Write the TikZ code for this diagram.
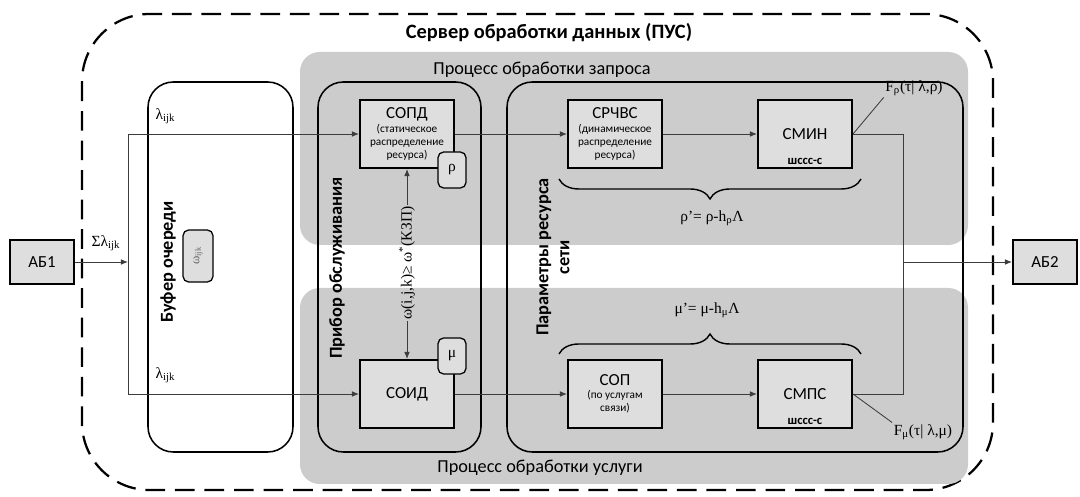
\documentclass[tikz,border=0pt]{standalone}
\usepackage{fontspec}
\setmainfont{Carlito}
\newfontfamily\tnr{Liberation Serif}
\usetikzlibrary{positioning,arrows.meta,decorations.pathreplacing}
\definecolor{zonegray}{RGB}{204,204,204}
\definecolor{boxgray}{RGB}{222,222,222}
\definecolor{wiregray}{RGB}{60,60,60}
\newcommand{\boxhead}[1]{{\fontsize{12}{13}\selectfont #1}}
\tikzset{
  blok/.style={draw,line width=1.4pt,fill=boxgray,minimum width=2.35cm,minimum height=1.7cm,inner sep=1pt,align=center,font=\fontsize{12}{13}\selectfont},
  blokdesc/.style={blok,font=\fontsize{8}{9.3}\selectfont},
  parm/.style={draw,line width=0.9pt,fill=boxgray,rounded corners=4pt,minimum width=0.7cm,minimum height=0.9cm,inner sep=0pt,font=\tnr\fontsize{11}{12}\selectfont},
  abbox/.style={draw,line width=1.4pt,fill=boxgray,minimum width=1.6cm,minimum height=1.1cm,font=\fontsize{12}{13}\selectfont},
  zonefill/.style={fill=zonegray,rounded corners=14pt},
  roundframe/.style={draw,line width=1.1pt,rounded corners=18pt},
  wire/.style={draw=wiregray,line width=0.6pt},
  formula/.style={font=\tnr\fontsize{11}{12}\selectfont,inner sep=1pt},
  vtitle/.style={rotate=90,font=\bfseries\fontsize{13}{15}\selectfont,align=center},
  zonetitle/.style={font=\fontsize{13}{15}\selectfont},
  curly/.style={decorate,line width=1pt}
}
\begin{document}
\begin{tikzpicture}[x=0.025cm,y=-0.025cm,>={Latex[length=5pt,width=4pt]}]
    \useasboundingbox (0,0) rectangle (1080,497);
    \draw[line width=1.6pt,dash pattern=on 14pt off 7pt,rounded corners=48pt] (82,14) rectangle (993,490);
    \node[font=\bfseries\fontsize{14.5}{16}\selectfont] (server) at (549,33) {Сервер обработки данных (ПУС)};
    \fill[zonefill] (300,52) rectangle (968,245);
    \fill[zonefill] (300,288) rectangle (968,484);
    \node[zonetitle] (zq) at (542,70) {Процесс обработки запроса};
    \node[zonetitle] (zu) at (540,468) {Процесс обработки услуги};
    \draw[roundframe] (148,82) rectangle (293,452);
    \draw[roundframe] (318,82) rectangle (481,452);
    \draw[roundframe] (507,82) rectangle (963,452);
    \node[vtitle] (buf) at (168,262) {Буфер очереди};
    \node[vtitle] (pribor) at (337,268) {Прибор обслуживания};
    \node[vtitle] (params) at (553,257) {Параметры ресурса\\сети};
    \node[parm,rotate=90,minimum width=1.3cm,minimum height=0.75cm,text=black!60,font=\tnr\fontsize{9}{10}\selectfont] (wq) at (198,256) {ω\textsubscript{ijk}};
    \node[abbox] (ab1) at (42,262) {АБ1};
    \node[abbox] (ab2) at (1045,262) {АБ2};
    \node[blokdesc] (sopd) at (407,134) {\boxhead{СОПД}\\(статическое\\распределение\\ресурса)};
    \node[blok] (soid) at (407,394) {СОИД};
    \node[blokdesc] (srchvs) at (615,134) {\boxhead{СРЧВС}\\(динамическое\\распределение\\ресурса)};
    \node[blok,label={[font=\bfseries\fontsize{9}{10}\selectfont,anchor=south,inner sep=3pt]south:шссс-с}] (smin) at (805,134) {СМИН};
    \node[blokdesc] (sop) at (615,394) {\boxhead{СОП}\\(по услугам\\связи)};
    \node[blok,label={[font=\bfseries\fontsize{9}{10}\selectfont,anchor=south,inner sep=3pt]south:шссс-с}] (smps) at (805,394) {СМПС};
    \node[parm] (rho) at (452,170) {ρ};
    \node[parm] (mu) at (452,356) {μ};
    \node[formula] (ssum) at (106,243) {Σλ\textsubscript{ijk}};
    \node[formula,anchor=west] (lamup) at (154,116) {λ\textsubscript{ijk}};
    \node[formula,anchor=west] (lamdn) at (154,375) {λ\textsubscript{ijk}};
    \node[formula,rotate=90] (omg) at (407,263) {ω(i,j,k)≥ ω\textsuperscript{*}(КЗП)};
    \node[formula] (rhop) at (712,218) {ρ’= ρ-h\textsubscript{ρ}Λ};
    \node[formula] (mup) at (707,310) {μ’= μ-h\textsubscript{μ}Λ};
    \node[formula] (frho) at (914,88) {F\textsubscript{ρ}(τ| λ,ρ)};
    \node[formula] (fmu) at (923,432) {F\textsubscript{μ}(τ| λ,μ)};
    \coordinate (fork) at (128,262);
    \coordinate (forkup) at (128,134);
    \coordinate (forkdn) at (128,394);
    \coordinate (join) at (903,262);
    \draw[wire,->] (ab1) -- (fork);
    \draw[wire] (forkup) -- (forkdn);
    \draw[wire,->] (forkup) -- (sopd);
    \draw[wire,->] (forkdn) -- (soid);
    \draw[wire,->] (sopd) -- (srchvs);
    \draw[wire,->] (srchvs) -- (smin);
    \draw[wire,->] (soid) -- (sop);
    \draw[wire,->] (sop) -- (smps);
    \draw[wire] (smin) -| (join);
    \draw[wire] (smps) -| (join);
    \draw[wire,->] (join) -- (ab2);
    \draw[wire,->] (omg.east) -- (sopd.south);
    \draw[wire,->] (omg.west) -- (soid.north);
    \draw[wire] (smin.east) -- (frho.south west);
    \draw[wire] (smps.east) -- (fmu.north west);
    \draw[curly,decoration={brace,amplitude=0.5cm,mirror}] ([shift={(-8,10)}]srchvs.south west) -- ([shift={(8,10)}]smin.south east);
    \draw[curly,decoration={brace,amplitude=0.5cm}] ([shift={(-8,-5)}]sop.north west) -- ([shift={(8,-5)}]smps.north east);
\end{tikzpicture}
\end{document}
